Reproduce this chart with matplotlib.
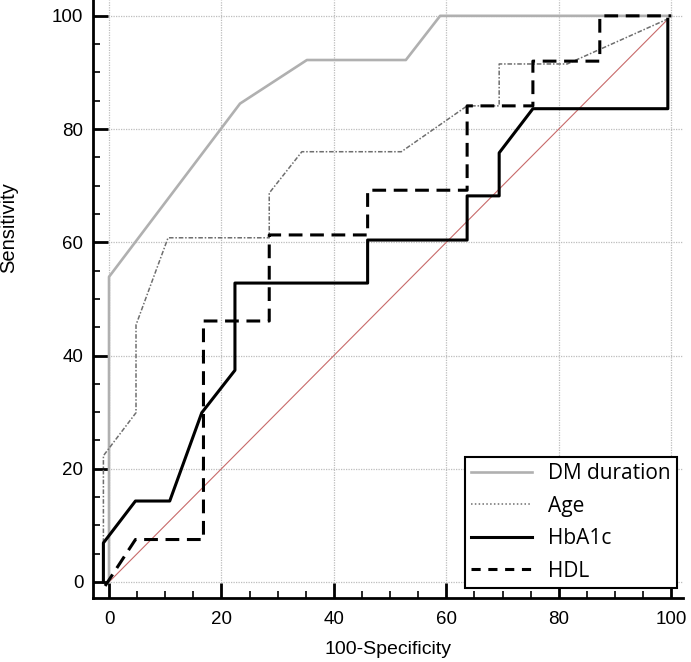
import matplotlib
matplotlib.use("Agg")
import matplotlib.pyplot as plt
from matplotlib.lines import Line2D
from matplotlib.ticker import MultipleLocator

# ROC curves (100-Specificity, Sensitivity)
dm_x = [0, 0, 23.3, 35.2, 52.8, 58.9, 100]
dm_y = [0, 53.9, 84.5, 92.2, 92.2, 100, 100]

age_x = [-1, -1, 4.8, 4.8, 10.5, 28.5, 28.5, 34.3, 52.0, 63.7, 69.4, 69.4, 81.5, 99.5]
age_y = [0, 22.3, 29.9, 45.4, 60.8, 60.8, 68.7, 76.0, 76.0, 84.1, 84.1, 91.5, 91.5, 99.5]

hba_x = [-1, -1, 4.7, 10.8, 16.5, 22.4, 22.4, 46.0, 46.0, 63.7, 63.7, 69.4, 69.4, 75.4, 99.4, 99.4]
hba_y = [0, 6.9, 14.3, 14.3, 29.9, 37.4, 52.8, 52.8, 60.4, 60.4, 68.2, 68.2, 75.8, 83.6, 83.6, 99.4]

hdl_x = [-0.7, 4.7, 16.8, 16.8, 28.5, 28.5, 46.0, 46.0, 63.7, 63.7, 75.4, 75.4, 87.3, 87.3, 100]
hdl_y = [-0.7, 7.5, 7.5, 46.1, 46.1, 61.3, 61.3, 69.2, 69.2, 84.1, 84.1, 92.0, 92.0, 100, 100]

ref_x = [0, 99.5]
ref_y = [0, 99.5]

labels = ["DM duration", "Age", "HbA1c", "HDL"]

plt.rcParams["font.family"] = ["Liberation Sans", "DejaVu Sans"]

fig = plt.figure(figsize=(6.91, 6.62), dpi=100)
ax = fig.add_axes([93 / 691, 64 / 662, 590 / 691, 598 / 662])

ax.plot(ref_x, ref_y, color="#c86a6a", linewidth=0.8, zorder=2)
ax.plot(dm_x, dm_y, color="#b0b0b0", linewidth=1.9, zorder=3)
ax.plot(age_x, age_y, color="#6e6e6e", linewidth=1.1, linestyle=(0, (3, 1.2, 1, 1.2)), zorder=3)
ax.plot(hba_x, hba_y, color="black", linewidth=2.2, zorder=4)
ax.plot(hdl_x, hdl_y, color="black", linewidth=2.2, linestyle=(0, (4.5, 2.5)), zorder=4)

ax.set_xlim(-2.85, 102.1)
ax.set_ylim(-2.83, 102.8)
ax.xaxis.set_major_locator(MultipleLocator(20))
ax.yaxis.set_major_locator(MultipleLocator(20))
ax.xaxis.set_minor_locator(MultipleLocator(5))
ax.yaxis.set_minor_locator(MultipleLocator(5))
ax.grid(True, which="major", color="#bdbdbd", linestyle=(0, (1, 1)), linewidth=0.9)

for side in ["top", "right"]:
    ax.spines[side].set_visible(False)
for side in ["left", "bottom"]:
    ax.spines[side].set_linewidth(2.0)

ax.tick_params(axis="both", which="major", direction="in", length=11, width=2.0, labelsize=13.5)
ax.tick_params(axis="both", which="minor", direction="in", length=5, width=1.2)
ax.tick_params(axis="y", which="major", pad=7)
ax.tick_params(axis="x", which="major", pad=9)

ax.set_xlabel("100-Specificity", fontsize=14, labelpad=10)
ax.set_ylabel("Sensitivity", fontsize=14.5)
ax.yaxis.set_label_coords(-0.127, 0.62)

handles = [
    Line2D([], [], color="#b0b0b0", linewidth=1.9),
    Line2D([], [], color="#6e6e6e", linewidth=1.1, linestyle=(0, (1, 1.5))),
    Line2D([], [], color="black", linewidth=2.2),
    Line2D([], [], color="black", linewidth=2.2, linestyle=(0, (3, 2.5))),
]
leg = ax.legend(handles, labels, loc="lower right", bbox_to_anchor=(0.99, 0.017),
                borderaxespad=0, fancybox=False, framealpha=1, edgecolor="black",
                prop={"family": "Open Sans", "size": 15}, handlelength=2.9,
                handletextpad=0.8, labelspacing=0.55, borderpad=0.3)
leg.get_frame().set_linewidth(1.5)

fig.savefig("out.png", dpi=100)
